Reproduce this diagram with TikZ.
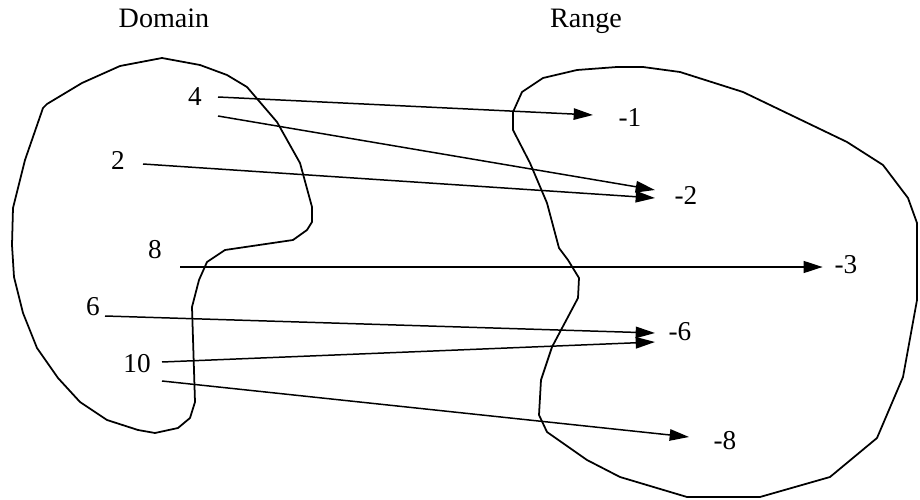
\documentclass[tikz,border=0pt]{standalone}
\usepackage{fontspec}
\setmainfont{Liberation Serif}
\usetikzlibrary{arrows.meta}
\tikzset{
    blob/.style = {draw, line width=1pt, line join=round},
    num/.style = {font=\fontsize{15.5}{18}\selectfont, inner sep=0pt},
    title/.style = {font=\fontsize{16}{19}\selectfont, inner sep=0pt, anchor=base},
    map/.style = {line width=0.85pt, -{Triangle[length=11pt,width=6.5pt]}},
    bigmap/.style = {line width=1.7pt, -{Triangle[length=11pt,width=6.5pt]}}
}

\begin{document}
\begin{tikzpicture}[x=0.02cm, y=-0.02cm]

    \useasboundingbox (0,0) rectangle (920,500);

    % Domain outline
    \path[blob] (47,104) -- (82,83) -- (120,66) -- (162,58) -- (200,65) -- (227,75)
        -- (247,87) -- (277,122) -- (300,163) -- (312,207) -- (312,222) -- (307,230)
        -- (293,240) -- (225,250) -- (207,262) -- (199,280) -- (192,307) -- (195,402)
        -- (190,418) -- (178,428) -- (155,433) -- (138,430) -- (107,420) -- (80,402)
        -- (58,378) -- (37,348) -- (23,313) -- (14,277) -- (12,245) -- (13,208)
        -- (25,160) -- (43,108) -- cycle;

    % Range outline
    \path[blob] (522,92) -- (543,78) -- (577,70) -- (617,67) -- (643,67) -- (680,72)
        -- (743,92) -- (847,142) -- (883,165) -- (908,198) -- (917,223) -- (917,300)
        -- (903,377) -- (877,438) -- (830,477) -- (760,497) -- (687,497) -- (620,477)
        -- (587,460) -- (547,432) -- (539,415) -- (541,380) -- (552,347) -- (578,298)
        -- (579,278) -- (568,260) -- (559,248) -- (547,203) -- (530,163) -- (513,130)
        -- (513,112) -- cycle;

    % Titles
    \node[title] (domain) at (164,28) {Domain};
    \node[title] (range) at (586,28) {Range};

    % Domain values
    \node[num] (d4) at (195,97) {4};
    \node[num] (d2) at (118,160) {2};
    \node[num] (d8) at (155,250) {8};
    \node[num] (d6) at (93,307) {6};
    \node[num] (d10) at (137,364) {10};

    % Range values
    \node[num] (rm1) at (630,118) {-1};
    \node[num] (rm2) at (686,195) {-2};
    \node[num] (rm3) at (846,265) {-3};
    \node[num] (rm6) at (680,332) {-6};
    \node[num] (rm8) at (725,441) {-8};

    % Arrow ends
    \coordinate (s4a) at (218,97);
    \coordinate (s4b) at (218,116);
    \coordinate (s2) at (143,164);
    \coordinate (s8) at (180,267);
    \coordinate (s6) at (105,316);
    \coordinate (s10a) at (162,362);
    \coordinate (s10b) at (162,381);
    \coordinate (e1) at (593,115);
    \coordinate (e2a) at (655,190);
    \coordinate (e2b) at (655,198);
    \coordinate (e3) at (823,267);
    \coordinate (e6a) at (655,333);
    \coordinate (e6b) at (655,342);
    \coordinate (e8) at (689,437);

    % Mapping
    \draw[map] (s4a) -- (e1);
    \draw[map] (s4b) -- (e2a);
    \draw[map] (s2) -- (e2b);
    \draw[bigmap] (s8) -- (e3);
    \draw[map] (s6) -- (e6a);
    \draw[map] (s10a) -- (e6b);
    \draw[map] (s10b) -- (e8);

\end{tikzpicture}
\end{document}
